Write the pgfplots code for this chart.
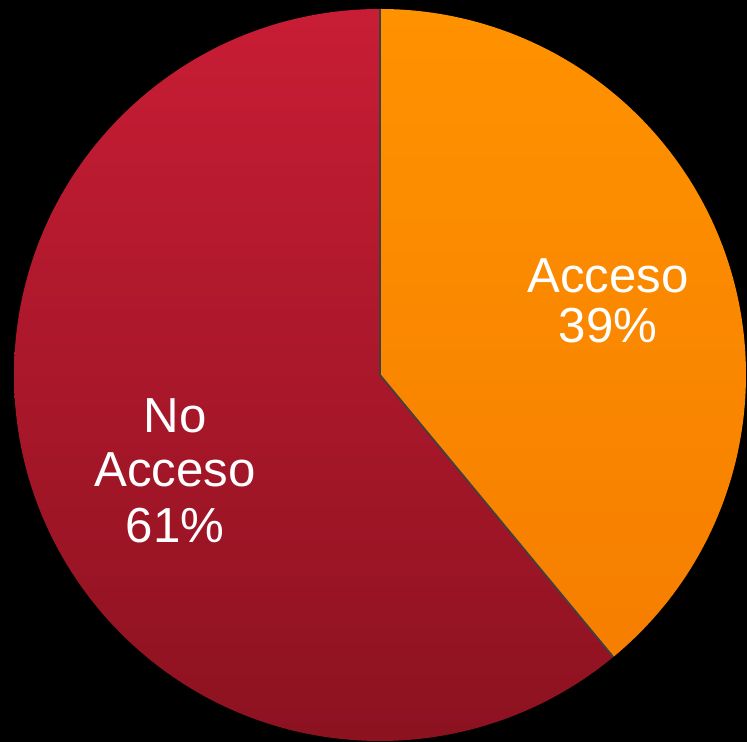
\documentclass[border=0pt]{standalone}
\usepackage{pgfplots}
\pgfplotsset{compat=1.18}
\usepackage{pgfplotstable}
\usepackage{fontspec}
\setmainfont{Liberation Sans}
\definecolor{orangeTop}{HTML}{FF9200}
\definecolor{orangeBot}{HTML}{F67E00}
\definecolor{redTop}{HTML}{C81D35}
\definecolor{redBot}{HTML}{8C1220}
\pgfplotstableread{
label value
Acceso 39
NoAcceso 61
}\piedata
\begin{document}
\begin{tikzpicture}
\pgfplotstablegetelem{0}{value}\of\piedata \let\vA\pgfplotsretval
\pgfplotstablegetelem{1}{value}\of\piedata \let\vB\pgfplotsretval
\pgfmathsetmacro{\angA}{90-360*\vA/(\vA+\vB)}
\begin{axis}[
  x=1cm, y=1cm, scale only axis,
  xmin=0, xmax=7.47, ymin=0, ymax=7.42,
  hide axis, clip=true,
]
\fill[black] (axis cs:0,0) rectangle (axis cs:7.47,7.42);
% No Acceso slice
\shade[top color=redTop, bottom color=redBot]
  (axis cs:3.80,3.67) -- ++(90:3.66cm) arc[start angle=90, end angle=\angA+360, radius=3.66cm] -- cycle;
% Acceso slice
\shade[top color=orangeTop, bottom color=orangeBot]
  (axis cs:3.80,3.67) -- ++(\angA:3.66cm) arc[start angle=\angA, end angle=90, radius=3.66cm] -- cycle;
\draw[black!75, line width=0.5pt] (axis cs:3.80,3.67) -- ++(90:3.66cm);
\draw[black!75, line width=0.5pt] (axis cs:3.80,3.67) -- ++(\angA:3.66cm);
\begin{scope}[every node/.style={text=white, font=\fontsize{14}{16}\selectfont, anchor=base}]
\node at (axis cs:6.08,4.49) {Acceso};
\node at (axis cs:6.08,3.99) {39\%};
\node at (axis cs:1.75,3.09) {No};
\node at (axis cs:1.75,2.55) {Acceso};
\node at (axis cs:1.75,1.99) {61\%};
\end{scope}
\end{axis}
\end{tikzpicture}
\end{document}
